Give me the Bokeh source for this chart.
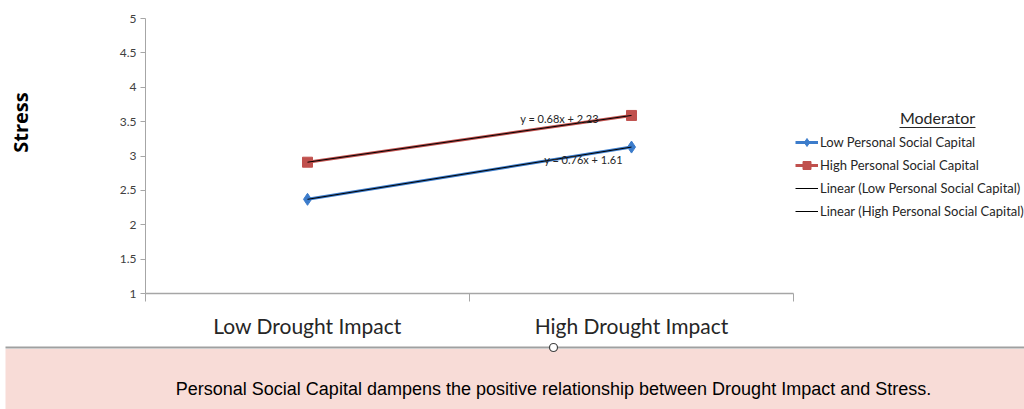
import math
from bokeh.plotting import figure
from bokeh.models import Range1d, FixedTicker, Legend, LegendItem
from bokeh.core.properties import value
from bokeh.embed import file_html
from bokeh.resources import INLINE

# ---- data ----
categories = ["Low Drought Impact", "High Drought Impact"]
cat_x = [1, 2]
low_psc = [2.37, 3.13]
high_psc = [2.91, 3.59]
eq_low = "y = 0.76x + 1.61"
eq_high = "y = 0.68x + 2.23"
y_ticks = [1, 1.5, 2, 2.5, 3, 3.5, 4, 4.5, 5]
y_title = "Stress"
series_names = ["Low Personal Social Capital", "High Personal Social Capital",
                "Linear (Low Personal Social Capital)", "Linear (High Personal Social Capital)"]
caption = "Personal Social Capital dampens the positive relationship between Drought Impact and Stress."

BLUE = "#3C7CCB"
RED = "#C0504D"
AXIS = "#A6A6A6"
TXT = "#262626"
PINK = "#F8DCD7"

W = 1024
H = 409
X0_PX = 145.0      # screen x of x=0.5
PX_PER_X = 324.0
Y5_PX = 18.0       # screen y of y=5
PX_PER_Y = 68.75

x_start = 0.5 - X0_PX / PX_PER_X
x_end = x_start + W / PX_PER_X
y_end = 5 + Y5_PX / PX_PER_Y
y_start = y_end - H / PX_PER_Y


def dx(sx):
    return x_start + sx / PX_PER_X


def dy(sy):
    return y_end - sy / PX_PER_Y


p = figure(width=W, height=H, output_backend="svg", toolbar_location=None,
           x_range=Range1d(x_start, x_end), y_range=Range1d(y_start, y_end),
           min_border=0, background_fill_color="white", border_fill_color="white")
p.outline_line_color = None
p.grid.visible = False

# caption band (behind everything)
p.quad(left=[dx(5)], right=[dx(W)], top=[dy(348.5)], bottom=[dy(H + 2)],
       fill_color=PINK, line_color=None, level="underlay")
p.segment([dx(5)], [dy(347)], [dx(W)], [dy(347)], line_color="#A0A0A0", line_width=2, level="underlay")
p.scatter([dx(553)], [dy(347)], marker="circle", size=8, fill_color="white",
          line_color="#404040", line_width=1.2)
p.text([dx(553)], [dy(388)], text=[caption], text_font=value("Liberation Sans"),
       text_font_size="18px", text_color="black", text_align="center", text_baseline="middle")

# y axis
ya = p.yaxis[0]
ya.fixed_location = 0.5
ya.ticker = FixedTicker(ticks=y_ticks)
ya.bounds = (1, 5)
ya.axis_line_color = AXIS
ya.major_tick_line_color = AXIS
ya.major_tick_out = 5
ya.major_tick_in = 0
ya.minor_tick_line_color = None
ya.major_label_text_font = "Lato"
ya.major_label_text_font_size = "12px"
ya.major_label_text_color = "#404040"
ya.major_label_standoff = 4

# y axis title
p.text([dx(20)], [dy(122)], text=[y_title], angle=math.pi / 2,
       text_font=value("Open Sans"), text_font_style="bold", text_font_size="20px",
       text_color="black", text_align="center", text_baseline="middle")

# x axis
xa = p.xaxis[0]
xa.fixed_location = 1
xa.ticker = FixedTicker(ticks=cat_x, minor_ticks=[0.5, 1.5, 2.5])
xa.bounds = (0.5, 2.5)
xa.major_label_overrides = {x: c for x, c in zip(cat_x, categories)}
xa.axis_line_color = AXIS
xa.axis_line_width = 1.5
xa.major_tick_line_color = None
xa.major_tick_out = 0
xa.major_tick_in = 0
xa.minor_tick_line_color = AXIS
xa.minor_tick_out = 8
xa.minor_tick_in = 0
xa.major_label_text_font = "Lato"
xa.major_label_text_font_size = "21px"
xa.major_label_text_color = TXT
xa.major_label_standoff = 11

# series
r_low = p.line(cat_x, low_psc, line_color=BLUE, line_width=3)
m_low = p.scatter(cat_x, low_psc, marker="diamond", size=12, fill_color=BLUE, line_color=BLUE)
r_high = p.line(cat_x, high_psc, line_color=RED, line_width=3)
m_high = p.scatter(cat_x, high_psc, marker="square", size=10, fill_color=RED, line_color=RED)
t_low = p.line(cat_x, low_psc, line_color="black", line_width=1)
t_high = p.line(cat_x, high_psc, line_color="black", line_width=1)

p.text([dx(559)], [dy(118)], text=[eq_high], text_font=value("Lato"), text_font_size="11px",
       text_color=TXT, text_align="center", text_baseline="middle")
p.text([dx(583)], [dy(159)], text=[eq_low], text_font=value("Lato"), text_font_size="11px",
       text_color=TXT, text_align="center", text_baseline="middle")

# legend title (underlined)
p.text([dx(937)], [dy(117)], text=["Moderator"], text_font=value("Lato"), text_font_size="16px",
       text_color=TXT, text_align="center", text_baseline="middle")
p.segment([dx(899)], [dy(127)], [dx(975)], [dy(127)], line_color=TXT, line_width=1)

legend = Legend(items=[
    LegendItem(label=series_names[0], renderers=[r_low, m_low]),
    LegendItem(label=series_names[1], renderers=[r_high, m_high]),
    LegendItem(label=series_names[2], renderers=[t_low]),
    LegendItem(label=series_names[3], renderers=[t_high]),
], location=(795, H - 132 - 89))
legend.label_text_font = "Lato"
legend.label_text_font_size = "13px"
legend.label_text_color = TXT
legend.glyph_width = 23
legend.glyph_height = 20
legend.label_height = 20
legend.label_standoff = 2
legend.spacing = 3
legend.padding = 0
legend.margin = 0
legend.border_line_color = None
legend.background_fill_alpha = 0
p.add_layout(legend)

open("out.html", "w").write(file_html(p, INLINE))
